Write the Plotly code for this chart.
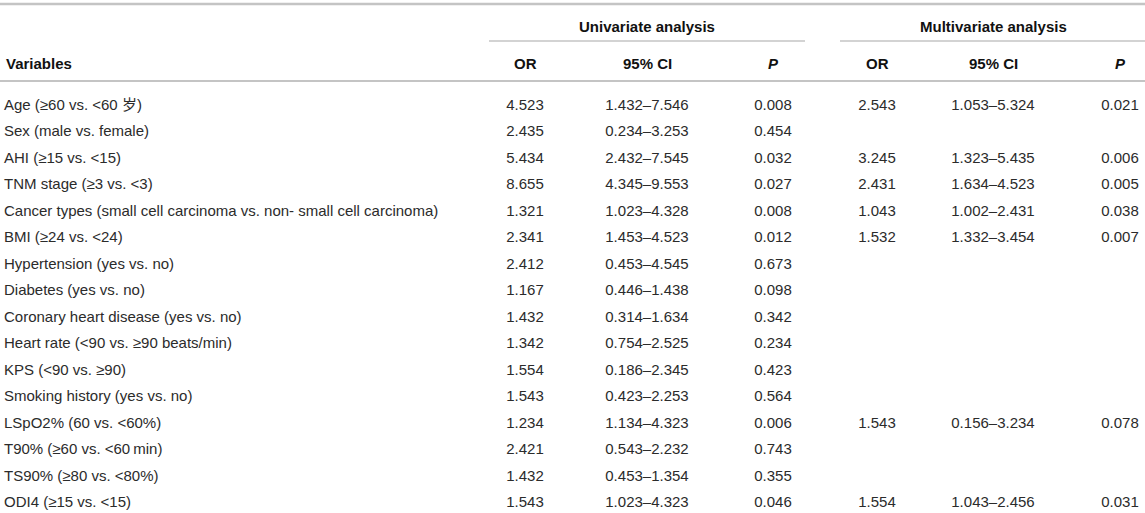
import plotly.graph_objects as go

variables = [
    "Age (≥60 vs. <60 岁)",
    "Sex (male vs. female)",
    "AHI (≥15 vs. <15)",
    "TNM stage (≥3 vs. <3)",
    "Cancer types (small cell carcinoma vs. non- small cell carcinoma)",
    "BMI (≥24 vs. <24)",
    "Hypertension (yes vs. no)",
    "Diabetes (yes vs. no)",
    "Coronary heart disease (yes vs. no)",
    "Heart rate (<90 vs. ≥90 beats/min)",
    "KPS (<90 vs. ≥90)",
    "Smoking history (yes vs. no)",
    "LSpO2% (60 vs. <60%)",
    "T90% (≥60 vs. <60\u2009min)",
    "TS90% (≥80 vs. <80%)",
    "ODI4 (≥15 vs. <15)",
]
uni_or = ["4.523", "2.435", "5.434", "8.655", "1.321", "2.341", "2.412", "1.167",
          "1.432", "1.342", "1.554", "1.543", "1.234", "2.421", "1.432", "1.543"]
uni_ci = ["1.432–7.546", "0.234–3.253", "2.432–7.545", "4.345–9.553", "1.023–4.328",
          "1.453–4.523", "0.453–4.545", "0.446–1.438", "0.314–1.634", "0.754–2.525",
          "0.186–2.345", "0.423–2.253", "1.134–4.323", "0.543–2.232", "0.453–1.354",
          "1.023–4.323"]
uni_p = ["0.008", "0.454", "0.032", "0.027", "0.008", "0.012", "0.673", "0.098",
         "0.342", "0.234", "0.423", "0.564", "0.006", "0.743", "0.355", "0.046"]
multi_or = ["2.543", "", "3.245", "2.431", "1.043", "1.532", "", "", "", "", "", "",
            "1.543", "", "", "1.554"]
multi_ci = ["1.053–5.324", "", "1.323–5.435", "1.634–4.523", "1.002–2.431",
            "1.332–3.454", "", "", "", "", "", "", "0.156–3.234", "", "", "1.043–2.456"]
multi_p = ["0.021", "", "0.006", "0.005", "0.038", "0.007", "", "", "", "", "", "",
           "0.078", "", "", "0.031"]

FONT = "Liberation Sans, Arial, Noto Sans CJK SC, sans-serif"
TXT = "#2b2b2b"
RULE = "#c4c4c4"
SIZE = 15

rows = list(range(len(variables)))
fig = go.Figure()

fig.add_trace(go.Scatter(x=[4] * len(rows), y=rows, text=variables, mode="text",
                         textposition="middle right",
                         textfont=dict(family=FONT, size=SIZE, color=TXT)))

value_cols = [(525, uni_or), (647, uni_ci), (773, uni_p),
              (877, multi_or), (993, multi_ci), (1120, multi_p)]
for xc, vals in value_cols:
    fig.add_trace(go.Scatter(x=[xc] * len(rows), y=rows, text=vals, mode="text",
                             textposition="middle center",
                             textfont=dict(family=FONT, size=SIZE, color=TXT)))

# header rows (in row units above the first row)
hdr_font = dict(family=FONT, size=SIZE, color="#111")
sub_y, grp_y = -1.6, -3.0
heads = [(4, sub_y, "<b>Variables</b>", "left"),
         (525, sub_y, "<b>OR</b>", "center"),
         (647, sub_y, "<b>95% CI</b>", "center"),
         (773, sub_y, "<b><i>P</i></b>", "center"),
         (877, sub_y, "<b>OR</b>", "center"),
         (993, sub_y, "<b>95% CI</b>", "center"),
         (1120, sub_y, "<b><i>P</i></b>", "center"),
         (647, grp_y, "<b>Univariate analysis</b>", "center"),
         (993, grp_y, "<b>Multivariate analysis</b>", "center")]
for x, y, t, al in heads:
    fig.add_annotation(x=x, y=y, text=t, showarrow=False, xanchor=al,
                       yanchor="middle", font=hdr_font)

H = 513
def py(px):
    return 1 - px / H

shapes = [
    dict(x0=0, x1=1145, y=4, w=2.5),
    dict(x0=489, x1=805, y=41, w=1.5),
    dict(x0=840, x1=1145, y=41, w=1.5),
    dict(x0=0, x1=1145, y=81, w=2),
]
for s in shapes:
    fig.add_shape(type="line", xref="x", yref="paper", x0=s["x0"], x1=s["x1"],
                  y0=py(s["y"]), y1=py(s["y"]), line=dict(color=RULE, width=s["w"]))

first, step = 106, 26.5
fig.update_layout(
    width=1145, height=513,
    margin=dict(l=0, r=0, t=0, b=0),
    paper_bgcolor="white", plot_bgcolor="white",
    showlegend=False,
    xaxis=dict(range=[0, 1145], visible=False, fixedrange=True),
    yaxis=dict(range=[(H - first) / step, -first / step], visible=False, fixedrange=True),
)

fig.write_html("out.html", config={"displayModeBar": False},
               post_script="document.body.style.margin='0';")
